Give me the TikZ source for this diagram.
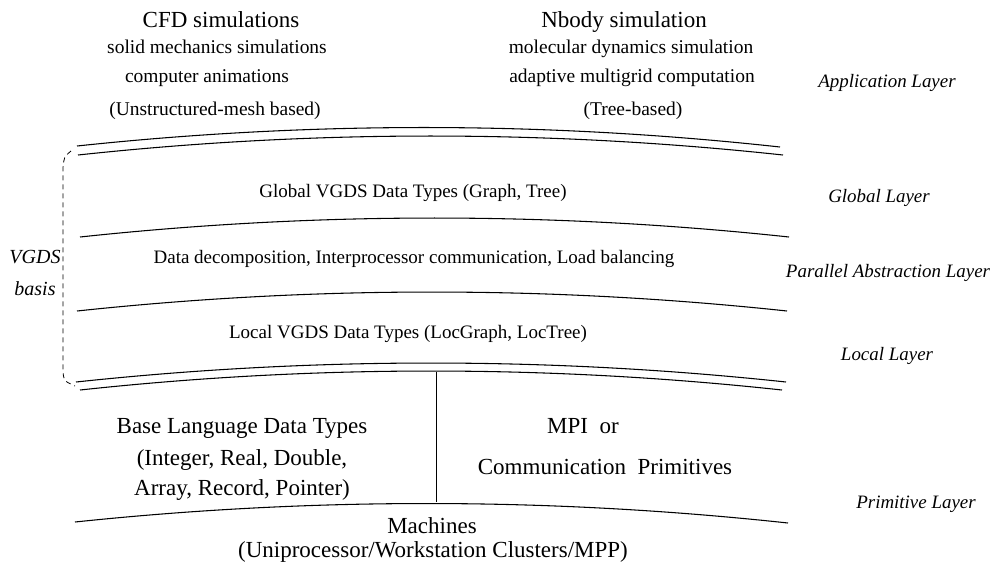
\documentclass[tikz,border=0pt]{standalone}
\usepackage{fontspec}
\setmainfont{Liberation Serif}
\usetikzlibrary{calc}
\tikzset{
  txt/.style={anchor=base,inner sep=0pt,font=\fontsize{14.6}{16}\selectfont},
  midtxt/.style={anchor=base,inner sep=0pt,font=\fontsize{14.25}{16}\selectfont},
  bigtxt/.style={anchor=base,inner sep=0pt,font=\fontsize{17.25}{19}\selectfont},
  laytxt/.style={anchor=base,inner sep=0pt,font=\fontsize{14.2}{16}\selectfont\itshape},
  layerline/.style={line width=0.8pt},
  bracket/.style={line width=0.6pt,dash pattern=on 3.75pt off 3pt}
}
\newcommand{\sagarc}[2]{%
  \draw[layerline] (#1) .. controls ($(#1)!1/3!(#2)+(0,-25.3)$) and ($(#1)!2/3!(#2)+(0,-25.3)$) .. (#2);}
\begin{document}
\begin{tikzpicture}[x=0.75pt,y=-0.75pt]
\useasboundingbox (0,0) rectangle (1005,565);
% application texts
\node[bigtxt] (cfd) at (221,27) {CFD simulations};
\node[txt] (solid) at (217,53) {solid mechanics simulations};
\node[txt] (anim) at (207,82) {computer animations};
\node[txt] (unstr) at (215,115) {(Unstructured-mesh based)};
\node[bigtxt] (nbody) at (624,27) {Nbody simulation};
\node[txt] (molec) at (631,53) {molecular dynamics simulation};
\node[txt] (adapt) at (632,82) {adaptive multigrid computation};
\node[txt] (treeb) at (633,115) {(Tree-based)};
% layer labels
\node[laytxt] (appl) at (887,87) {Application Layer};
\node[laytxt] (globl) at (879,202) {Global Layer};
\node[laytxt] (parl) at (888,277) {Parallel Abstraction Layer};
\node[laytxt] (locl) at (887,360) {Local Layer};
\node[laytxt] (priml) at (916,508) {Primitive Layer};
% middle texts
\node[midtxt] (glob) at (413,197) {Global VGDS Data Types (Graph, Tree)};
\node[midtxt] (data) at (414,263) {Data decomposition, Interprocessor communication, Load balancing};
\node[midtxt] (loc) at (408,338) {Local VGDS Data Types (LocGraph, LocTree)};
% VGDS basis
\node[laytxt,font=\fontsize{15}{16}\selectfont\itshape] (vgds) at (35,263) {VGDS};
\node[laytxt,font=\fontsize{15}{16}\selectfont\itshape] (basis) at (35,295) {basis};
% primitive layer texts
\node[bigtxt] (base) at (242,433) {Base Language Data Types};
\node[bigtxt] (integ) at (242,465) {(Integer, Real, Double,};
\node[bigtxt] (arr) at (242,495) {Array, Record, Pointer)};
\node[bigtxt] (mpi) at (583,433) {MPI~~or};
\node[bigtxt] (comm) at (605,474) {Communication~~Primitives};
\node[bigtxt] (mach) at (432,533) {Machines};
\node[bigtxt] (unip) at (433,557) {(Uniprocessor/Workstation Clusters/MPP)};
% arcs
\coordinate (t1a) at (77,146);  \coordinate (t1b) at (780,147);
\coordinate (t2a) at (78,155);  \coordinate (t2b) at (783,155);
\coordinate (m1a) at (80,237);  \coordinate (m1b) at (789,237);
\coordinate (m2a) at (77,311);  \coordinate (m2b) at (787,311);
\coordinate (b1a) at (76,382);  \coordinate (b1b) at (786,382);
\coordinate (b2a) at (80,390);  \coordinate (b2b) at (782,390);
\coordinate (ma) at (75,522);   \coordinate (mb) at (788,523);
\sagarc{t1a}{t1b}
\sagarc{t2a}{t2b}
\sagarc{m1a}{m1b}
\sagarc{m2a}{m2b}
\sagarc{b1a}{b1b}
\sagarc{b2a}{b2b}
\sagarc{ma}{mb}
% vertical divider
\coordinate (vtop) at (436,372);
\coordinate (vbot) at (436,502);
\draw[line width=0.7pt] (vtop) -- (vbot);
% dashed bracket
\coordinate (bk1) at (71,151);
\coordinate (bk2) at (63,168);
\coordinate (bk3) at (63,372);
\coordinate (bk4) at (75,386);
\draw[bracket] (bk1) .. controls (64,157) .. (bk2) -- (bk3) .. controls (64,381) .. (bk4);
\end{tikzpicture}
\end{document}
